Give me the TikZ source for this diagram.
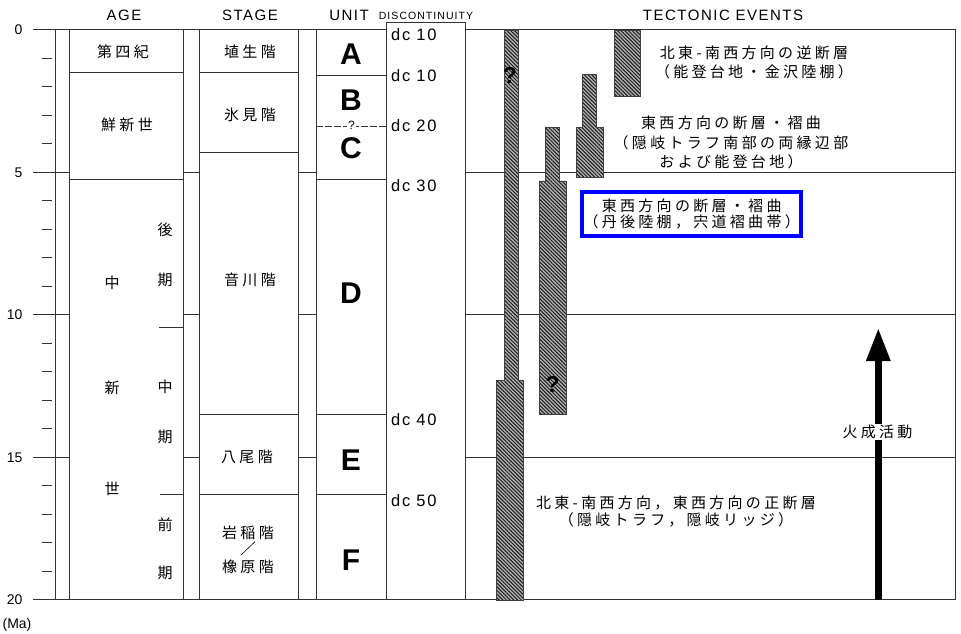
\documentclass[tikz,border=0pt]{standalone}
\usepackage{fontspec}
\setmainfont{Liberation Sans}
\newfontfamily\hd[LetterSpace=10]{Liberation Sans}
\newfontfamily\jp[LetterSpace=22]{Noto Sans CJK JP}
\usetikzlibrary{arrows.meta}
\usetikzlibrary{patterns.meta}
\tikzset{
 frame/.style={black!80, line width=0.8pt},
 colbox/.style={frame, fill=white},
 jtext/.style={font=\jp\fontsize{15}{17}\selectfont, inner sep=1pt},
 evtext/.style={font=\jp\fontsize{15}{19.5}\selectfont, align=center, inner sep=1pt},
 head/.style={font=\hd\fontsize{15}{16}\selectfont},
 dclabel/.style={anchor=west, inner sep=0pt, font=\hd\fontsize{16.5}{18}\selectfont},
 unitletter/.style={font=\fontsize{30}{30}\selectfont\bfseries},
 hatchbar/.style={preaction={fill=gray!60}, pattern={Lines[angle=-45,distance=2.6pt,line width=1pt]}, pattern color=black!90, draw=black!75, line width=0.5pt},
 qmark/.style={font=\fontsize{23}{23}\selectfont\bfseries, inner sep=0pt}
}
\begin{document}
\begin{tikzpicture}[x=1pt, y=-28.5pt]
\useasboundingbox (0,-1.0456) rectangle (961,21.2);
\foreach \y in {0,5,10,15,20} {
 \draw[frame] (33,\y) -- (955,\y);
 \node[anchor=east, font=\fontsize{14}{16}\selectfont] (ma\y) at (26,\y) {\y};
}
\foreach \y in {1,2,3,4,6,7,8,9,11,12,13,14,16,17,18,19}
 \draw[frame] (42,\y) -- (52,\y);
\node[font=\fontsize{14}{16}\selectfont] (maunit) at (17,20.88) {(Ma)};
\draw[frame] (55,0) -- (55,20);
\draw[colbox] (69,0) rectangle (183,20);
\draw[colbox] (199,0) rectangle (298,20);
\draw[colbox] (316,0) rectangle (386,20);
\draw[colbox] (386,-0.25) rectangle (465,20);
\draw[frame] (465,0) rectangle (955,20);
% headers
\node[head] (hage) at (124,-0.52) {AGE};
\node[head] (hstage) at (250,-0.52) {STAGE};
\node[head] (hunit) at (349,-0.52) {UNIT};
\node[head, font=\hd\fontsize{10.5}{11}\selectfont] (hdc) at (426,-0.5) {DISCONTINUITY};
\node[head] (htect) at (723,-0.52) {TECTONIC EVENTS};
% age
\foreach \y in {1.5,5.25} \draw[frame] (69,\y) -- (183,\y);
\draw[frame] (159,10.45) -- (183,10.45);
\draw[frame] (160,16.3) -- (183,16.3);
\node[jtext] (quat) at (123,0.77) {第四紀};
\node[jtext] (plio) at (127,3.34) {鮮新世};
\foreach \t/\y [count=\i] in {中/8.88,新/12.57,世/16.1}
 \node[jtext] (mio\i) at (112,\y) {\t};
\foreach \t/\y [count=\i] in {後/7.02,期/8.78,中/12.53,期/14.3,前/17.37,期/19.05}
 \node[jtext] (sub\i) at (165,\y) {\t};
% stage
\foreach \y in {1.5,4.3,13.5,16.3} \draw[frame] (199,\y) -- (298,\y);
\node[jtext] (haniu) at (250,0.77) {埴生階};
\node[jtext] (himi) at (250,2.99) {氷見階};
\node[jtext] (otogawa) at (250,8.77) {音川階};
\node[jtext] (yatsuo) at (247,14.98) {八尾階};
\node[jtext] (iwaine) at (248,17.65) {岩稲階};
\node[jtext] (kunugi) at (248,18.84) {橡原階};
\draw[black, line width=0.6pt] (255,17.96) -- (241,18.43);
% unit
\foreach \y in {1.6,5.25,13.5,16.3} \draw[frame] (316,\y) -- (386,\y);
\draw[frame, dash pattern=on 7pt off 2pt] (316,3.4) -- (386,3.4);
\node[fill=white, inner sep=1pt, font=\fontsize{12}{12}\selectfont] (bcq) at (351.5,3.36) {?};
\foreach \u/\y in {A/0.84,B/2.46,C/4.16,D/9.23,E/15.1,F/18.6}
 \node[unitletter] (u\u) at (351,\y) {\u};
% discontinuity
\foreach \d/\y [count=\i] in {10/0.17,10/1.59,20/3.37,30/5.45,40/13.69,50/16.52}
 \node[dclabel] (dc\i) at (391,\y) {dc \d};
% tectonic events
\draw[hatchbar] (504,0) -- (518,0) -- (518,12.3) -- (523,12.3) -- (523,20) -- (496,20) -- (496,12.3) -- (504,12.3) -- cycle;
\draw[hatchbar] (545,3.43) -- (559,3.43) -- (559,5.3) -- (566,5.3) -- (566,13.49) -- (539,13.49) -- (539,5.3) -- (545,5.3) -- cycle;
\draw[hatchbar] (582,1.56) -- (596.5,1.56) -- (596.5,3.43) -- (603,3.43) -- (603,5.19) -- (576.5,5.19) -- (576.5,3.43) -- (582,3.43) -- cycle;
\draw[hatchbar] (614,0) rectangle (640,2.32);
\node[qmark] (q1) at (510,1.59) {?};
\node[qmark] (q2) at (552.7,12.46) {?};
\node[evtext] (ev1) at (754,1.15) {北東-南西方向の逆断層\\（能登台地・金沢陸棚）};
\node[evtext] (ev2) at (731,3.96) {東西方向の断層・褶曲\\（隠岐トラフ南部の両縁辺部\\および能登台地）};
\node[evtext, font=\jp\fontsize{15}{16}\selectfont, draw=blue, line width=4pt, minimum width=219pt, minimum height=44pt] (ev3) at (691.7,6.47) {東西方向の断層・褶曲\\（丹後陸棚，宍道褶曲帯）};
\node[evtext, font=\jp\fontsize{15}{17.3}\selectfont] (ev4) at (676,16.9) {北東-南西方向，東西方向の正断層\\（隠岐トラフ，隠岐リッジ）};
\coordinate (ig0) at (878.3,20);
\coordinate (ig1) at (878.3,10.47);
\draw[line width=6.5pt, -{Triangle[width=23pt,length=33pt]}] (ig0) -- (ig1);
\node[jtext, fill=white] (igneous) at (877.5,14.1) {火成活動};
\end{tikzpicture}
\end{document}
